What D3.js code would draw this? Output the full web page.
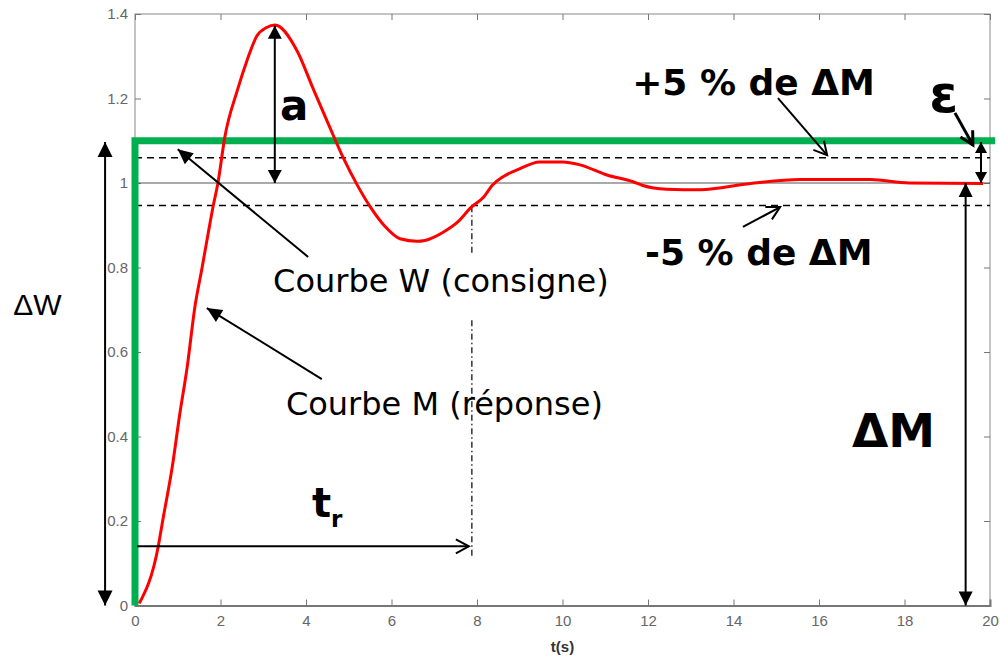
<!DOCTYPE html>
<html>
<head>
<meta charset="utf-8">
<script src="https://cdn.jsdelivr.net/npm/d3@7"></script>
<style>
  body { margin: 0; background: #fff; }
  svg { display: block; }
</style>
</head>
<body>
<div id="chart"></div>
<script>
// axis ticks
const xTicks = [0, 2, 4, 6, 8, 10, 12, 14, 16, 18, 20];
const yTicks = [0, 0.2, 0.4, 0.6, 0.8, 1, 1.2, 1.4];
const yTickLabels = ['0', '0.2', '0.4', '0.6', '0.8', '1', '1.2', '1.4'];

// response M (red)
const respT = [0.1, 0.54, 0.65, 0.87, 1.05, 1.22, 1.40, 1.57, 1.71, 1.83, 1.94, 2.1, 2.39, 2.62, 2.85, 3.08, 3.27,
               3.79, 4.16, 4.56, 4.87, 5.2, 5.5, 5.85, 6.2, 6.6, 6.78, 7.2, 7.53, 7.88, 8.14, 8.37, 8.61, 8.94,
               9.47, 10.01, 10.41, 11.04, 11.65, 11.88, 12.44, 12.82, 13.22, 14.4, 15.56, 17.2, 18.1, 19.84];
const respV = [0.005, 0.138, 0.202, 0.327, 0.455, 0.564, 0.706, 0.80, 0.88, 0.946, 1.0, 1.108, 1.218, 1.29, 1.348, 1.368, 1.374,
               1.313, 1.225, 1.131, 1.06, 0.995, 0.944, 0.897, 0.868, 0.862, 0.864, 0.883, 0.906, 0.944, 0.965, 0.996, 1.015, 1.031,
               1.050, 1.050, 1.043, 1.019, 1.003, 0.994, 0.985, 0.984, 0.984, 0.999, 1.008, 1.008, 1.0, 0.999];

// setpoint W (green)
const setT = [0, 0, 20.12];
const setV = [0, 1.1, 1.1];

const finalV = 1;
const bandV = [1.06, 0.947];     // +5 % / -5 % lines
const trT = 7.88;                // settling time
const trSegs = [[0.945, 0.83], [0.675, 0.117]];

// annotation arrows, data coords [t, v]
const arrows = [
  { from: [-0.70, 0], to: [-0.70, 1.097], heads: 'both', kind: 'fill', len: 15, hw: 7.5, sw: 2 },
  { from: [3.27, 1.0], to: [3.27, 1.372], heads: 'both', kind: 'fill', len: 13, hw: 7, sw: 2 },
  { from: [19.79, 1.0], to: [19.79, 1.097], heads: 'both', kind: 'fill', len: 11, hw: 6, sw: 2 },
  { from: [19.43, 0], to: [19.43, 1.0], heads: 'both', kind: 'fill', len: 14, hw: 7, sw: 2 },
  { from: [15.04, 1.201], to: [16.19, 1.066], heads: 'end', kind: 'open', len: 13, hw: 7, sw: 2 },
  { from: [14.22, 0.896], to: [15.09, 0.943], heads: 'end', kind: 'open', len: 13, hw: 7, sw: 2 },
  { from: [4.05, 0.825], to: [1.0, 1.080], heads: 'end', kind: 'fill', len: 15, hw: 7, sw: 2 },
  { from: [4.37, 0.536], to: [1.68, 0.704], heads: 'end', kind: 'fill', len: 15, hw: 7, sw: 2 },
  { from: [19.18, 1.166], to: [19.60, 1.090], heads: 'end', kind: 'open', len: 13, hw: 7, sw: 3 },
  { from: [0.05, 0.14], to: [7.81, 0.14], heads: 'end', kind: 'open', len: 13, hw: 7, sw: 2 }
];

// annotation texts
const sans = '"DejaVu Sans", Verdana, sans-serif';
const labels = [
  { text: 'a', t: 3.39, v: 1.149, size: 42, bold: true },
  { text: '+5 % de ΔM', t: 11.63, v: 1.208, size: 36, bold: true },
  { text: 'ε', t: 18.58, v: 1.168, size: 52, bold: true },
  { text: '-5 % de ΔM', t: 11.93, v: 0.806, size: 36, bold: true },
  { text: 'Courbe W (consigne)', t: 3.23, v: 0.742, size: 32, bold: false },
  { text: 'Courbe M (réponse)', t: 3.53, v: 0.451, size: 32, bold: false },
  { text: 'ΔM', t: 16.77, v: 0.375, size: 47, bold: true }
];

const W = 1000, H = 659;
const x = d3.scaleLinear().domain([0, 20]).range([135, 990]);
const y = d3.scaleLinear().domain([0, 1.4]).range([605.5, 14]);

const svg = d3.select('#chart').append('svg')
  .attr('width', W).attr('height', H);

// box + ticks
svg.append('rect')
  .attr('x', x(0)).attr('y', y(1.4))
  .attr('width', x(20) - x(0)).attr('height', y(0) - y(1.4))
  .attr('fill', 'none').attr('stroke', '#888').attr('stroke-width', 1);

svg.append('g')
  .attr('transform', `translate(0, ${y(0)})`)
  .call(d3.axisBottom(x).tickValues(xTicks).tickSize(-6).tickPadding(10).tickFormat(d => d))
  .call(g => g.select('.domain').attr('stroke', '#777').attr('stroke-width', 2));
svg.append('g')
  .attr('transform', `translate(0, ${y(1.4)})`)
  .call(d3.axisTop(x).tickValues(xTicks).tickSize(-6).tickFormat(''))
  .call(g => g.select('.domain').remove());
svg.append('g')
  .attr('transform', `translate(${x(0)}, 0)`)
  .call(d3.axisLeft(y).tickValues(yTicks).tickSize(-6).tickPadding(7).tickFormat((d, i) => yTickLabels[i]))
  .call(g => g.select('.domain').remove());
svg.append('g')
  .attr('transform', `translate(${x(20)}, 0)`)
  .call(d3.axisRight(y).tickValues(yTicks).tickSize(-6).tickFormat(''))
  .call(g => g.select('.domain').remove());

svg.selectAll('.tick line').attr('stroke', '#777');
svg.selectAll('.tick text')
  .attr('fill', '#666')
  .style('font-family', '"Liberation Sans", Arial, sans-serif')
  .style('font-size', '15px');

svg.append('text')
  .attr('x', x(10)).attr('y', 652)
  .attr('text-anchor', 'middle')
  .style('font-family', '"Liberation Sans", Arial, sans-serif')
  .style('font-size', '15px').style('font-weight', 'bold')
  .attr('fill', '#333')
  .text('t(s)');

// reference line at 1 and ±5 % band
svg.append('line')
  .attr('x1', x(0)).attr('x2', x(20))
  .attr('y1', y(finalV)).attr('y2', y(finalV))
  .attr('stroke', '#555').attr('stroke-width', 1);

svg.selectAll('.band')
  .data(bandV)
  .enter()
  .append('line')
  .attr('class', 'band')
  .attr('x1', x(0)).attr('x2', x(20))
  .attr('y1', d => y(d)).attr('y2', d => y(d))
  .attr('stroke', '#000').attr('stroke-width', 1.5)
  .attr('stroke-dasharray', '7,5');

// dash-dot at tr
svg.selectAll('.tr')
  .data(trSegs)
  .enter()
  .append('line')
  .attr('class', 'tr')
  .attr('x1', x(trT)).attr('x2', x(trT))
  .attr('y1', d => y(d[0])).attr('y2', d => y(d[1]))
  .attr('stroke', '#000').attr('stroke-width', 1.2)
  .attr('stroke-dasharray', '6,3,1.5,3');

// setpoint W
const line = d3.line().x(d => x(d[0])).y(d => y(d[1]));
svg.append('path')
  .attr('d', line(setT.map((t, i) => [t, setV[i]])))
  .attr('fill', 'none').attr('stroke', '#00B050')
  .attr('stroke-width', 7).attr('stroke-linejoin', 'miter');

// response M
svg.append('path')
  .attr('d', line.curve(d3.curveMonotoneX)(respT.map((t, i) => [t, respV[i]])))
  .attr('fill', 'none').attr('stroke', '#FF0000')
  .attr('stroke-width', 3).attr('stroke-linejoin', 'round');

// arrows
const drawHead = (tip, back, a) => {
  const dx = tip[0] - back[0], dy = tip[1] - back[1];
  const L = Math.hypot(dx, dy);
  const ux = dx / L, uy = dy / L;
  const bx = tip[0] - ux * a.len, by = tip[1] - uy * a.len;
  const p1 = [bx - uy * a.hw, by + ux * a.hw];
  const p2 = [bx + uy * a.hw, by - ux * a.hw];
  if (a.kind === 'fill') {
    svg.append('path')
      .attr('d', `M${tip[0]},${tip[1]}L${p1[0]},${p1[1]}L${p2[0]},${p2[1]}Z`)
      .attr('fill', '#000');
  } else {
    svg.append('path')
      .attr('d', `M${p1[0]},${p1[1]}L${tip[0]},${tip[1]}L${p2[0]},${p2[1]}`)
      .attr('fill', 'none').attr('stroke', '#000').attr('stroke-width', a.sw);
  }
};

arrows.forEach(a => {
  const p = [x(a.from[0]), y(a.from[1])];
  const q = [x(a.to[0]), y(a.to[1])];
  svg.append('line')
    .attr('x1', p[0]).attr('y1', p[1]).attr('x2', q[0]).attr('y2', q[1])
    .attr('stroke', '#000').attr('stroke-width', a.sw);
  drawHead(q, p, a);
  if (a.heads === 'both') drawHead(p, q, a);
});

// texts
svg.selectAll('.lbl')
  .data(labels)
  .enter()
  .append('text')
  .attr('class', 'lbl')
  .attr('x', d => x(d.t)).attr('y', d => y(d.v))
  .style('font-family', sans)
  .style('font-size', d => d.size + 'px')
  .style('font-weight', d => d.bold ? 'bold' : 'normal')
  .attr('fill', '#000')
  .text(d => d.text);

// ΔW outside the axes
svg.append('text')
  .attr('x', x(-2.85)).attr('y', y(0.688))
  .style('font-family', '"Liberation Sans", Arial, sans-serif')
  .style('font-size', '30px')
  .text('ΔW');

// t_r
const tr = svg.append('text')
  .attr('x', x(4.14)).attr('y', y(0.209))
  .style('font-family', sans).style('font-weight', 'bold');
tr.append('tspan').style('font-size', '40px').text('t');
tr.append('tspan').attr('dy', 10).style('font-size', '23px').text('r');
</script>
</body>
</html>
